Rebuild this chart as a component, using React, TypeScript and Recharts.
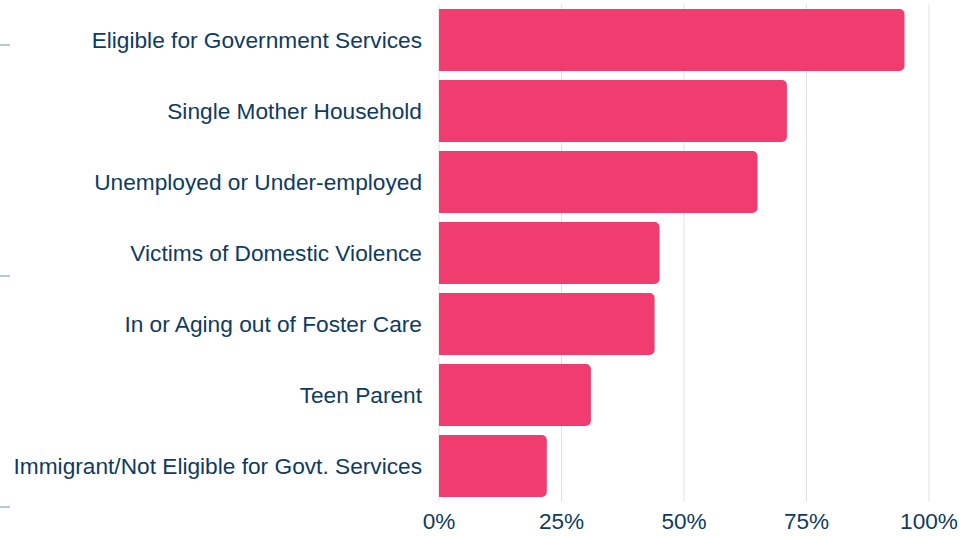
import { BarChart, Bar, XAxis, YAxis, CartesianGrid } from 'recharts'

// ── data ────────────────────────────────────────────────────────
const categories = [
  'Eligible for Government Services',
  'Single Mother Household',
  'Unemployed or Under-employed',
  'Victims of Domestic Violence',
  'In or Aging out of Foster Care',
  'Teen Parent',
  'Immigrant/Not Eligible for Govt. Services',
]
const shares = [95, 71, 65, 45, 44, 31, 22]
const xTicks = [0, 25, 50, 75, 100]
// the outer left axis only marks every third category
const sideTicks = [categories[0], categories[3], categories[6]]

const data = categories.map((name, i) => ({ name, value: shares[i] }))

const TEXT = '#0f3b5e'
const BAR = '#f03c6f'
const GRID = '#d9e1e8'

if (typeof document !== 'undefined') document.body.style.margin = '0'

const NoLabel = () => <g />

export default function App() {
  return (
    <div style={{ fontFamily: '"Liberation Sans", Arial, sans-serif' }}>
      <BarChart
        width={977}
        height={536}
        data={data}
        layout="vertical"
        margin={{ top: 4.5, right: 48, left: 0, bottom: 0 }}
        barCategoryGap={4.5}
      >
        <CartesianGrid horizontal={false} stroke={GRID} />
        <XAxis
          type="number"
          domain={[0, 100]}
          ticks={xTicks}
          tickFormatter={(v: number) => `${v}%`}
          axisLine={false}
          tickLine={false}
          tickSize={6}
          tickMargin={5}
          height={34.5}
          interval={0}
          tick={{ fill: TEXT, fontSize: 22.6 }}
        />
        <YAxis
          type="category"
          dataKey="name"
          width={429}
          axisLine={false}
          tickLine={false}
          tickSize={6}
          tickMargin={11}
          interval={0}
          tick={{ fill: TEXT, fontSize: 22.7 }}
        />
        <YAxis
          yAxisId="side"
          type="category"
          dataKey="name"
          ticks={sideTicks}
          padding={{ top: 2, bottom: -44 }}
          width={10}
          tickSize={10}
          axisLine={false}
          tickLine={{ stroke: '#b9c8d3', strokeWidth: 2 }}
          tick={NoLabel}
          interval={0}
        />
        <Bar dataKey="value" fill={BAR} radius={[0, 5, 5, 0]} isAnimationActive={false} />
      </BarChart>
    </div>
  )
}
